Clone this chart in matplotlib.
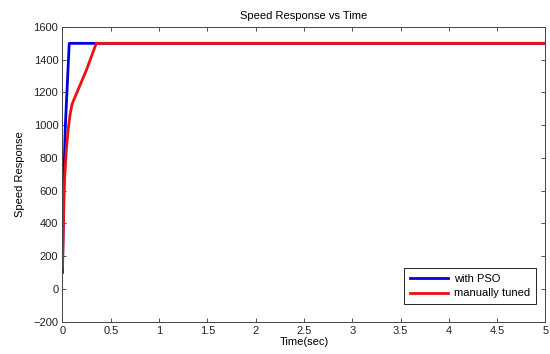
import matplotlib
matplotlib.use("Agg")
import matplotlib.pyplot as plt

t_pso = [0, 0.01, 0.02, 0.03, 0.05, 0.07, 5]
v_pso = [100, 500, 800, 1000, 1250, 1500, 1500]
t_man = [0, 0.01, 0.02, 0.04, 0.06, 0.08, 0.1, 0.15, 0.2, 0.25, 0.3, 0.35, 5]
v_man = [130, 400, 650, 850, 980, 1070, 1130, 1200, 1270, 1340, 1420, 1500, 1500]

xticks = [0, 0.5, 1, 1.5, 2, 2.5, 3, 3.5, 4, 4.5, 5]
xticklabels = ["0", "0.5", "1", "1.5", "2", "2.5", "3", "3.5", "4", "4.5", "5"]
yticks = list(range(-200, 1601, 200))

plt.rcParams['font.family'] = ['Liberation Sans', 'DejaVu Sans']
fig = plt.figure(figsize=(5.5, 3.54), dpi=100)
ax = fig.add_axes([0.1136, 0.0918, 0.878, 0.832])
ax.plot(t_pso, v_pso, color='#0000e0', lw=2, label='with PSO')
ax.plot(t_man, v_man, color='#ee1111', lw=2, label='manually tuned')
ax.set_xlim(0, 5)
ax.set_ylim(-200, 1600)
ax.set_xticks(xticks)
ax.set_xticklabels(xticklabels)
ax.set_yticks(yticks)
ax.tick_params(direction='in', length=3, labelsize=8, top=True, right=True, pad=3, width=0.6,
               colors='#333333', labelcolor='#222222')
for s in ax.spines.values():
    s.set_linewidth(0.7)
    s.set_color('#444444')
ax.set_title('Speed Response vs Time', fontsize=8, pad=6)
ax.set_xlabel('Time(sec)', fontsize=8, labelpad=1)
ax.set_ylabel('Speed Response', fontsize=8, labelpad=6)
leg = ax.legend(loc='lower right', bbox_to_anchor=(0.980, 0.0594), borderaxespad=0,
                fontsize=8, fancybox=False, edgecolor='black',
                framealpha=1, handlelength=3.5, borderpad=0.5, labelspacing=0.4,
                handletextpad=0.5)
leg.get_frame().set_linewidth(0.6)
fig.savefig('out.png', dpi=100)
